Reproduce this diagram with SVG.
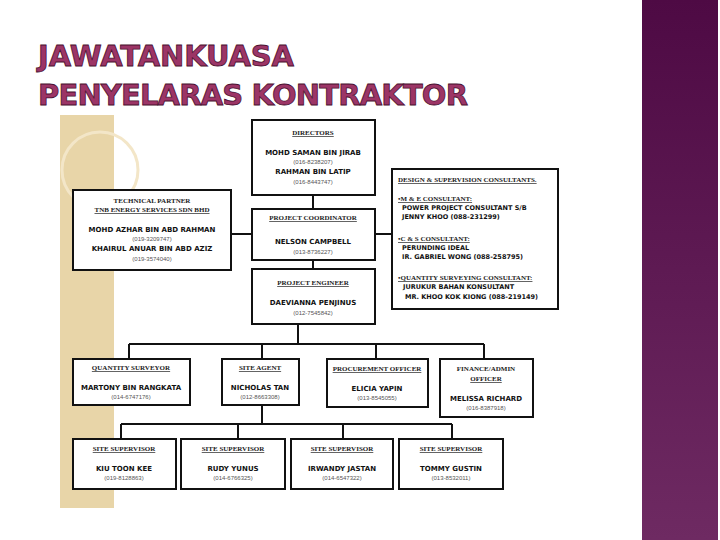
<svg xmlns="http://www.w3.org/2000/svg" width="720" height="540" viewBox="0 0 720 540">
<defs>
<linearGradient id="pg" x1="0" y1="0" x2="0" y2="1"><stop offset="0" stop-color="#4e0a44"/><stop offset="1" stop-color="#6e2a62"/></linearGradient>
</defs>
<style>
.b{fill:#fff;stroke:#111;stroke-width:2}
.h{font-family:"Liberation Serif",serif;font-weight:bold;font-size:7px;text-decoration:underline;text-anchor:middle;fill:#222}
.n{font-family:"DejaVu Sans",sans-serif;font-weight:bold;font-size:7px;text-anchor:middle;fill:#111}
.p{font-family:"Liberation Sans",sans-serif;font-size:6px;text-anchor:middle;fill:#555}
.l{font-family:"DejaVu Sans",sans-serif;font-weight:bold;font-size:6.5px;fill:#111}
.hl{font-family:"Liberation Serif",serif;font-weight:bold;font-size:7px;text-decoration:underline;fill:#222}
.c{stroke:#111;stroke-width:2;fill:none}
.t{font-family:"DejaVu Sans",sans-serif;font-weight:bold;font-size:29px;fill:#9c3566;stroke:#4a1030;stroke-width:0.8}
</style>
<rect width="720" height="540" fill="#fff"/>
<rect x="642" y="0" width="76" height="540" fill="url(#pg)"/>
<text class="t" x="38" y="66" textLength="256">JAWATANKUASA</text>
<text class="t" x="38" y="105" textLength="430">PENYELARAS KONTRAKTOR</text>
<rect x="60" y="115" width="54" height="393" fill="#e8d5a8"/>
<circle cx="100" cy="170" r="38" fill="none" stroke="#f3e6c8" stroke-width="3"/>
<g id="connectors">
<path class="c" d="M313 195V209M313 260V269M231 234H252M375 234H392M298 324V344M129 344H484M129 344V359M262 344V359M376 344V359M484 344V359M262 405V424M121 424H452M121 424V439M238 424V439M343 424V439M452 424V439"/>
</g>
<g id="directors"><rect class="b" x="252" y="120" width="123" height="75"/>
<text class="h" x="313" y="135">DIRECTORS</text><text class="n" x="313" y="155">MOHD SAMAN BIN JIRAB</text><text class="p" x="313" y="164">(016-8238207)</text><text class="n" x="313" y="174">RAHMAN BIN LATIP</text><text class="p" x="313" y="184">(016-8443747)</text></g>
<g id="technical"><rect class="b" x="73" y="190" width="158" height="80"/>
<text class="h" x="152" y="203" style="text-decoration:none">TECHNICAL PARTNER</text><text class="h" x="152" y="212">TNB ENERGY SERVICES SDN BHD</text><text class="n" x="152" y="232">MOHD AZHAR BIN ABD RAHMAN</text><text class="p" x="152" y="241">(019-3209747)</text><text class="n" x="152" y="251">KHAIRUL ANUAR BIN ABD AZIZ</text><text class="p" x="152" y="261">(019-3574040)</text></g>
<g id="coordinator"><rect class="b" x="252" y="209" width="123" height="51"/>
<text class="h" x="313" y="220">PROJECT COORDINATOR</text><text class="n" x="313" y="244">NELSON CAMPBELL</text><text class="p" x="313" y="254">(013-8736227)</text></g>
<g id="engineer"><rect class="b" x="252" y="269" width="123" height="55"/>
<text class="h" x="313" y="285">PROJECT ENGINEER</text><text class="n" x="313" y="305">DAEVIANNA PENJINUS</text><text class="p" x="313" y="315">(012-7545842)</text></g>
<g id="consultants"><rect class="b" x="392" y="169" width="166" height="140"/>
<text class="hl" x="398" y="182">DESIGN &amp; SUPERVISION CONSULTANTS.</text>
<text class="hl" x="398" y="201">•M &amp; E CONSULTANT:</text><text class="l" x="402" y="210">POWER PROJECT CONSULTANT S/B</text><text class="l" x="402" y="219">JENNY KHOO  (088-231299)</text>
<text class="hl" x="398" y="241">•C &amp; S CONSULTANT:</text><text class="l" x="402" y="250">PERUNDING IDEAL</text><text class="l" x="402" y="259">IR. GABRIEL WONG  (088-258795)</text>
<text class="hl" x="398" y="280">•QUANTITY SURVEYING CONSULTANT:</text><text class="l" x="403" y="289">JURUKUR BAHAN KONSULTANT</text><text class="l" x="405" y="299">MR. KHOO KOK KIONG  (088-219149)</text></g>
<g id="qs"><rect class="b" x="73" y="359" width="117" height="46"/>
<text class="h" x="131" y="370">QUANTITY SURVEYOR</text><text class="n" x="131" y="390">MARTONY BIN RANGKATA</text><text class="p" x="131" y="399">(014-6747176)</text></g>
<g id="siteagent"><rect class="b" x="222" y="359" width="77" height="46"/>
<text class="h" x="260" y="370">SITE AGENT</text><text class="n" x="260" y="390">NICHOLAS TAN</text><text class="p" x="260" y="399">(012-8663308)</text></g>
<g id="procurement"><rect class="b" x="327" y="359" width="101" height="48"/>
<text class="h" x="377" y="371">PROCUREMENT OFFICER</text><text class="n" x="377" y="391">ELICIA YAPIN</text><text class="p" x="377" y="400">(013-8545055)</text></g>
<g id="finance"><rect class="b" x="440" y="359" width="93" height="58"/>
<text class="h" x="486" y="371" style="text-decoration:none">FINANCE/ADMIN</text><text class="h" x="486" y="381">OFFICER</text><text class="n" x="486" y="401">MELISSA RICHARD</text><text class="p" x="486" y="410">(016-8387918)</text></g>
<g id="ss1"><rect class="b" x="73" y="439" width="103" height="50"/>
<text class="h" x="124" y="451">SITE SUPERVISOR</text><text class="n" x="124" y="471">KIU TOON KEE</text><text class="p" x="124" y="480">(019-8128863)</text></g>
<g id="ss2"><rect class="b" x="181" y="439" width="104" height="50"/>
<text class="h" x="233" y="451">SITE SUPERVISOR</text><text class="n" x="233" y="471">RUDY YUNUS</text><text class="p" x="233" y="480">(014-6766325)</text></g>
<g id="ss3"><rect class="b" x="291" y="439" width="102" height="50"/>
<text class="h" x="342" y="451">SITE SUPERVISOR</text><text class="n" x="342" y="471">IRWANDY JASTAN</text><text class="p" x="342" y="480">(014-6547322)</text></g>
<g id="ss4"><rect class="b" x="399" y="439" width="104" height="50"/>
<text class="h" x="451" y="451">SITE SUPERVISOR</text><text class="n" x="451" y="471">TOMMY GUSTIN</text><text class="p" x="451" y="480">(013-8532011)</text></g>
</svg>
